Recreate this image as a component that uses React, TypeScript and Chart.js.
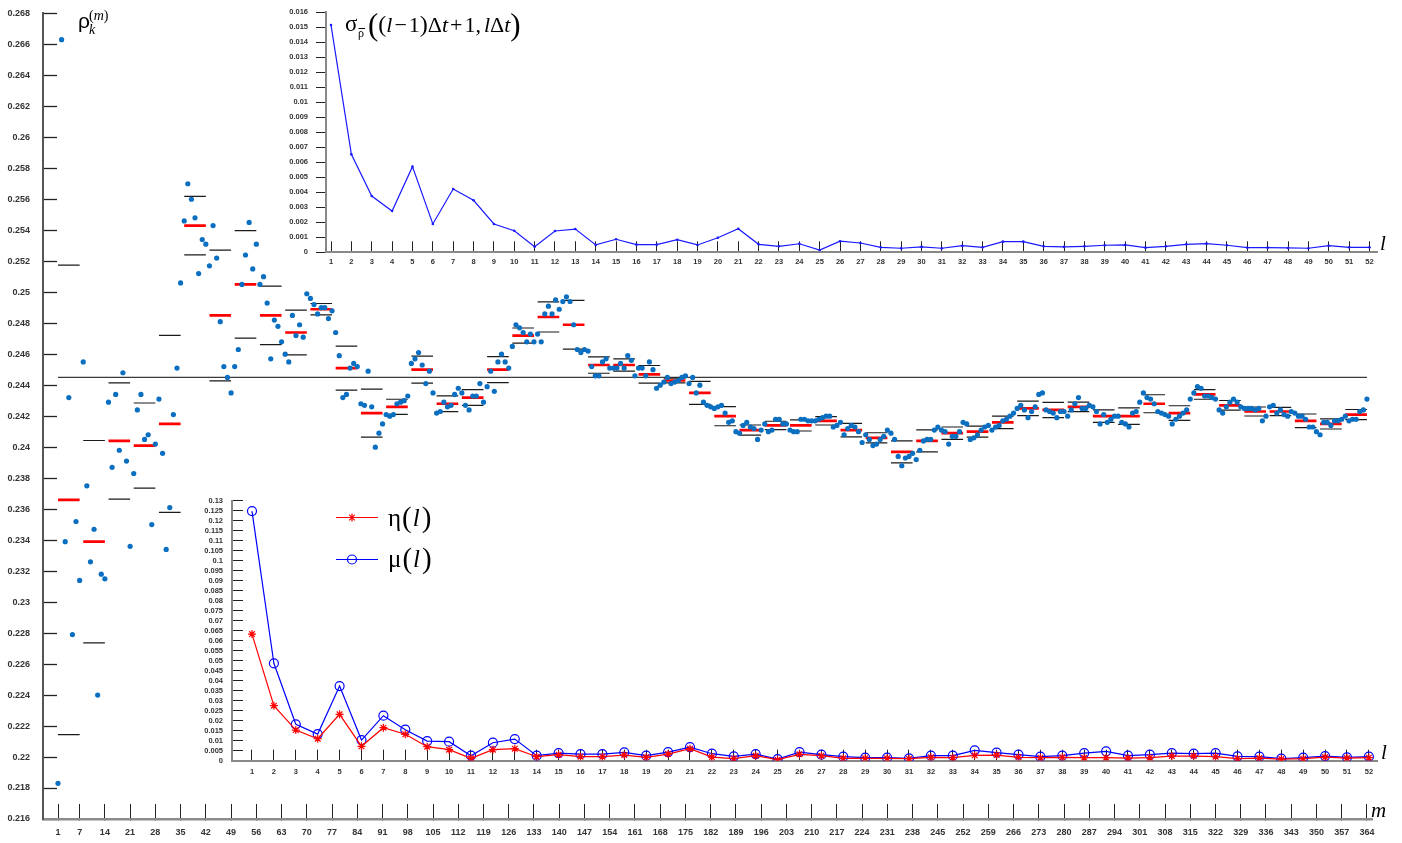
import React, { useEffect, useRef } from 'react';
import { Chart, registerables } from 'chart.js';

Chart.register(...registerables);

// ---------------- DATA ----------------
// daily correlation values rho_k^(m), m = 1..364 (one row per week)
const dailyRho: number[] = [
  0.2183, 0.2663, 0.2339, 0.2432, 0.2279, 0.2352, 0.2314,
  0.2455, 0.2375, 0.2326, 0.2347, 0.2240, 0.2318, 0.2315,
  0.2429, 0.2387, 0.2434, 0.2398, 0.2448, 0.2391, 0.2336,
  0.2383, 0.2424, 0.2434, 0.2405, 0.2408, 0.2350, 0.2402,
  0.2431, 0.2396, 0.2334, 0.2361, 0.2421, 0.2451, 0.2506,
  0.2546, 0.2570, 0.2560, 0.2548, 0.2512, 0.2534, 0.2531,
  0.2517, 0.2543, 0.2522, 0.2481, 0.2452, 0.2445, 0.2435,
  0.2452, 0.2463, 0.2505, 0.2524, 0.2545, 0.2515, 0.2531,
  0.2505, 0.2510, 0.2493, 0.2457, 0.2482, 0.2478, 0.2468,
  0.2460, 0.2455, 0.2485, 0.2472, 0.2479, 0.2471, 0.2499,
  0.2496, 0.2492, 0.2486, 0.2490, 0.2490, 0.2483, 0.2488,
  0.2474, 0.2459, 0.2432, 0.2434, 0.2451, 0.2454, 0.2452,
  0.2428, 0.2427, 0.2449, 0.2426, 0.2400, 0.2409, 0.2415,
  0.2421, 0.2420, 0.2421, 0.2428, 0.2429, 0.2430, 0.2433,
  0.2454, 0.2457, 0.2461, 0.2453, 0.2441, 0.2449, 0.2435,
  0.2422, 0.2423, 0.2429, 0.2426, 0.2427, 0.2434, 0.2438,
  0.2435, 0.2427, 0.2424, 0.2433, 0.2433, 0.2441, 0.2429,
  0.2439, 0.2449, 0.2436, 0.2455, 0.2460, 0.2455, 0.2451,
  0.2465, 0.2479, 0.2477, 0.2474, 0.2468, 0.2473, 0.2468,
  0.2473, 0.2468, 0.2486, 0.2491, 0.2486, 0.2495, 0.2489,
  0.2494, 0.2497, 0.2494, 0.2479, 0.2463, 0.2461, 0.2463,
  0.2462, 0.2452, 0.2446, 0.2446, 0.2455, 0.2457, 0.2451,
  0.2451, 0.2451, 0.2454, 0.2451, 0.2459, 0.2456, 0.2446,
  0.2451, 0.2451, 0.2446, 0.2455, 0.2450, 0.2438, 0.2440,
  0.2442, 0.2445, 0.2441, 0.2442, 0.2443, 0.2445, 0.2446,
  0.2441, 0.2445, 0.2435, 0.2440, 0.2429, 0.2427, 0.2426,
  0.2425, 0.2426, 0.2427, 0.2422, 0.2416, 0.2417, 0.2410,
  0.2409, 0.2414, 0.2416, 0.2413, 0.2412, 0.2405, 0.2411,
  0.2415, 0.2410, 0.2411, 0.2418, 0.2418, 0.2415, 0.2415,
  0.2411, 0.2410, 0.2410, 0.2418, 0.2418, 0.2417, 0.2417,
  0.2417, 0.2418, 0.2419, 0.2420, 0.2420, 0.2413, 0.2414,
  0.2416, 0.2408, 0.2412, 0.2414, 0.2413, 0.2410, 0.2403,
  0.2408, 0.2405, 0.2401, 0.2402, 0.2405, 0.2407, 0.2411,
  0.2409, 0.2405, 0.2394, 0.2388, 0.2393, 0.2394, 0.2396,
  0.2392, 0.2398, 0.2404, 0.2405, 0.2405, 0.2411, 0.2413,
  0.2411, 0.2410, 0.2402, 0.2407, 0.2407, 0.2410, 0.2416,
  0.2415, 0.2405, 0.2406, 0.2408, 0.2411, 0.2413, 0.2414,
  0.2411, 0.2413, 0.2414, 0.2417, 0.2418, 0.2420, 0.2422,
  0.2425, 0.2427, 0.2424, 0.2419, 0.2423, 0.2426, 0.2434,
  0.2435, 0.2424, 0.2423, 0.2422, 0.2419, 0.2423, 0.2423,
  0.2420, 0.2424, 0.2428, 0.2432, 0.2425, 0.2425, 0.2427,
  0.2426, 0.2423, 0.2415, 0.2421, 0.2416, 0.2418, 0.2420,
  0.2420, 0.2416, 0.2415, 0.2413, 0.2422, 0.2423, 0.2429,
  0.2435, 0.2432, 0.2431, 0.2428, 0.2423, 0.2422, 0.2421,
  0.2420, 0.2415, 0.2418, 0.2420, 0.2422, 0.2424, 0.2431,
  0.2435, 0.2439, 0.2438, 0.2433, 0.2433, 0.2432, 0.2431,
  0.2424, 0.2422, 0.2426, 0.2429, 0.2431, 0.2429, 0.2426,
  0.2425, 0.2425, 0.2425, 0.2424, 0.2425, 0.2417, 0.2420,
  0.2426, 0.2427, 0.2422, 0.2424, 0.2421, 0.2420, 0.2423,
  0.2422, 0.2420, 0.2420, 0.2418, 0.2413, 0.2413, 0.2410,
  0.2408, 0.2416, 0.2416, 0.2414, 0.2417, 0.2417, 0.2418,
  0.2420, 0.2417, 0.2418, 0.2418, 0.2423, 0.2424, 0.2431,
];

// weekly mean (red bars), l = 1..52
const weeklyMean: number[] = [
  0.2366, 0.2339, 0.2404, 0.2401, 0.2415, 0.2543, 0.2485, 0.2505, 0.2485, 0.2474,
  0.2489, 0.2451, 0.2422, 0.2426, 0.2450, 0.2428, 0.2432, 0.2450, 0.2472, 0.2484,
  0.2479, 0.2453, 0.2453, 0.2447, 0.2443, 0.2435, 0.2420, 0.2411, 0.2414, 0.2414,
  0.2417, 0.2411, 0.2406, 0.2397, 0.2404, 0.2409, 0.2410, 0.2416, 0.2425, 0.2424,
  0.2426, 0.2420, 0.2420, 0.2428, 0.2422, 0.2434, 0.2427, 0.2423, 0.2423, 0.2417,
  0.2415, 0.2421,
];

// weekly standard deviation sigma (top inset), l = 1..52
const weeklySigma: number[] = [
  0.01515, 0.00653, 0.00375, 0.00275, 0.00571, 0.00189, 0.00422, 0.00347, 0.00189, 0.00144,
  0.00037, 0.00142, 0.00155, 0.00049, 0.00087, 0.00051, 0.00051, 0.00084, 0.00049, 0.00097,
  0.00157, 0.00053, 0.00040, 0.00057, 0.00015, 0.00074, 0.00062, 0.00033, 0.00027, 0.00036,
  0.00027, 0.00044, 0.00033, 0.00071, 0.00071, 0.00040, 0.00036, 0.00040, 0.00047, 0.00049,
  0.00031, 0.00040, 0.00053, 0.00058, 0.00047, 0.00031, 0.00031, 0.00029, 0.00027, 0.00044,
  0.00033, 0.00033,
];

// eta(l) (bottom inset, red)
const etaWeek: number[] = [
  0.0633, 0.0275, 0.0153, 0.0110, 0.0232, 0.0072, 0.0165, 0.0132, 0.0070, 0.0055,
  0.0012, 0.0055, 0.0060, 0.0020, 0.0030, 0.0020, 0.0020, 0.0028, 0.0017, 0.0033,
  0.0060, 0.0018, 0.0010, 0.0025, 0.0005, 0.0032, 0.0025, 0.0012, 0.0012, 0.0012,
  0.0010, 0.0017, 0.0015, 0.0027, 0.0028, 0.0017, 0.0015, 0.0017, 0.0015, 0.0015,
  0.0013, 0.0015, 0.0023, 0.0023, 0.0020, 0.0010, 0.0013, 0.0008, 0.0010, 0.0018,
  0.0013, 0.0015,
];

// mu(l) (bottom inset, blue)
const muWeek: number[] = [
  0.1248, 0.0487, 0.0182, 0.0133, 0.0373, 0.0103, 0.0225, 0.0155, 0.0098, 0.0095,
  0.0025, 0.0090, 0.0108, 0.0025, 0.0038, 0.0033, 0.0033, 0.0042, 0.0025, 0.0043,
  0.0068, 0.0035, 0.0022, 0.0033, 0.0008, 0.0043, 0.0030, 0.0020, 0.0015, 0.0015,
  0.0012, 0.0025, 0.0025, 0.0052, 0.0040, 0.0030, 0.0020, 0.0025, 0.0038, 0.0047,
  0.0025, 0.0030, 0.0038, 0.0035, 0.0038, 0.0022, 0.0020, 0.0010, 0.0015, 0.0023,
  0.0017, 0.0020,
];

const overallMean = 0.2445;

const dayTicks: number[] = [
  1, 7, 14, 21, 28, 35, 42, 49, 56, 63, 70, 77, 84, 91, 98, 105, 112, 119, 126, 133, 140,
  147, 154, 161, 168, 175, 182, 189, 196, 203, 210, 217, 224, 231, 238, 245, 252, 259,
  266, 273, 280, 287, 294, 301, 308, 315, 322, 329, 336, 343, 350, 357, 364,
];
const rhoTicks: number[] = [
  0.216, 0.218, 0.22, 0.222, 0.224, 0.226, 0.228, 0.23, 0.232, 0.234, 0.236, 0.238, 0.24,
  0.242, 0.244, 0.246, 0.248, 0.25, 0.252, 0.254, 0.256, 0.258, 0.26, 0.262, 0.264, 0.266, 0.268,
];
const weekTicks: number[] = Array.from({ length: 52 }, (_, i) => i + 1);
const sigmaTicks: number[] = [
  0, 0.001, 0.002, 0.003, 0.004, 0.005, 0.006, 0.007, 0.008, 0.009, 0.01, 0.011, 0.012,
  0.013, 0.014, 0.015, 0.016,
];
const ratioTicks: number[] = [
  0, 0.005, 0.01, 0.015, 0.02, 0.025, 0.03, 0.035, 0.04, 0.045, 0.05, 0.055, 0.06, 0.065,
  0.07, 0.075, 0.08, 0.085, 0.09, 0.095, 0.1, 0.105, 0.11, 0.115, 0.12, 0.125, 0.13,
];

// ---------------- HELPERS ----------------
const SANS = '"Liberation Sans", Arial, sans-serif';
const SERIF = '"Liberation Serif", "Times New Roman", serif';
const tickFont = (size: number) => ({ family: SANS, size, weight: 'bold' as const });
const fmt = (v: any) => String(Number(Number(v).toFixed(3)));

function fixSize(prop: 'width' | 'height', size: number) {
  return (s: any) => {
    s[prop] = size;
    s.paddingTop = 0;
    s.paddingBottom = 0;
    s.paddingLeft = 0;
    s.paddingRight = 0;
  };
}

function weekSegments(values: number[]) {
  const pts: { x: number; y: number | null }[] = [];
  values.forEach((v, i) => {
    pts.push({ x: 7 * i + 1, y: v });
    pts.push({ x: 7 * i + 7, y: v });
    pts.push({ x: 7 * i + 7, y: null });
  });
  return pts;
}

function runs(ctx: CanvasRenderingContext2D, x: number, y: number, items: [string, string, number?, number?][]) {
  for (const [t, f, dy, gap] of items) {
    ctx.font = f;
    ctx.fillText(t, x, y + (dy || 0));
    x += ctx.measureText(t).width + (gap || 0);
  }
  return x;
}

const textPlugin = {
  id: 'mathText',
  afterDraw(chart: any) {
    const ctx: CanvasRenderingContext2D = chart.ctx;
    ctx.save();
    ctx.fillStyle = '#000';
    ctx.textBaseline = 'alphabetic';
    ctx.textAlign = 'left';

    // rho_k^(m)
    ctx.font = `21px ${SANS}`;
    ctx.fillText('ρ', 78, 28);
    runs(ctx, 89, 20, [['(', `14px ${SERIF}`], ['m', `italic 14px ${SERIF}`], [')', `14px ${SERIF}`]]);
    ctx.font = `italic 14px ${SERIF}`;
    ctx.fillText('k', 89, 34);

    // m axis name
    ctx.font = `italic 21px ${SERIF}`;
    ctx.fillText('m', 1371, 817);

    // sigma formula (top inset)
    ctx.font = `23px ${SERIF}`;
    ctx.fillText('σ', 345, 31);
    ctx.font = `12px ${SERIF}`;
    ctx.fillText('ρ', 358, 37);
    ctx.strokeStyle = '#000';
    ctx.lineWidth = 1;
    ctx.beginPath();
    ctx.moveTo(358.5, 28.5);
    ctx.lineTo(365, 28.5);
    ctx.stroke();
    const big = `31px ${SERIF}`;
    const mid = `24px ${SERIF}`;
    const rom = `22px ${SERIF}`;
    const ita = `italic 22px ${SERIF}`;
    runs(ctx, 368, 32, [
      ['(', big, 3], ['(', mid], ['l', ita, 0, 2], ['−', rom, 0, 2], ['1', rom], [')', mid],
      ['Δ', rom], ['t', ita, 0, 2], ['+', rom, 0, 2], ['1', rom], [',', rom, 0, 3],
      ['l', ita], ['Δ', rom], ['t', ita], [')', big, 3],
    ]);

    // l axis names for insets
    ctx.font = `italic 21px ${SERIF}`;
    ctx.fillText('l', 1380, 250);
    ctx.fillText('l', 1381, 759);

    // legend of bottom inset
    ctx.lineWidth = 1.2;
    ctx.strokeStyle = '#ff0000';
    ctx.beginPath();
    ctx.moveTo(336, 517.5);
    ctx.lineTo(378, 517.5);
    ctx.stroke();
    const sx = 352, sy = 517.5, r = 4;
    ctx.beginPath();
    ctx.moveTo(sx - r, sy); ctx.lineTo(sx + r, sy);
    ctx.moveTo(sx, sy - r); ctx.lineTo(sx, sy + r);
    ctx.moveTo(sx - r * 0.7, sy - r * 0.7); ctx.lineTo(sx + r * 0.7, sy + r * 0.7);
    ctx.moveTo(sx - r * 0.7, sy + r * 0.7); ctx.lineTo(sx + r * 0.7, sy - r * 0.7);
    ctx.stroke();
    ctx.strokeStyle = '#0000ff';
    ctx.beginPath();
    ctx.moveTo(336, 559.5);
    ctx.lineTo(378, 559.5);
    ctx.stroke();
    ctx.beginPath();
    ctx.arc(352, 559.5, 4.5, 0, Math.PI * 2);
    ctx.stroke();
    const lrom = `25px ${SERIF}`;
    const lita = `italic 25px ${SERIF}`;
    const lpar = `29px ${SERIF}`;
    runs(ctx, 388, 526, [['η', lrom, 0, 1], ['(', lpar, 1, 1], ['l', lita, 0, 2], [')', lpar, 1]]);
    runs(ctx, 388, 567, [['μ', lrom, 0, 1], ['(', lpar, 1, 1], ['l', lita, 0, 2], [')', lpar, 1]]);

    ctx.restore();
  },
};

// ---------------- CONFIGS ----------------
function mainConfig(): any {
  const dots = dailyRho.map((v, i) => ({ x: i + 1, y: v }));
  const upper = weeklyMean.map((m, i) => m + weeklySigma[i]);
  const lower = weeklyMean.map((m, i) => m - weeklySigma[i]);
  return {
    type: 'line',
    data: {
      datasets: [
        {
          data: dots, showLine: false, pointRadius: 2.6, pointBackgroundColor: '#0a6fc0',
          pointBorderWidth: 0, borderColor: '#0a6fc0',
        },
        { data: weekSegments(weeklyMean), borderColor: '#ff0000', borderWidth: 2.7, pointRadius: 0, spanGaps: false, borderCapStyle: 'butt' },
        { data: weekSegments(upper), borderColor: '#1a1a1a', borderWidth: 1.2, pointRadius: 0, spanGaps: false, borderCapStyle: 'butt' },
        { data: weekSegments(lower), borderColor: '#1a1a1a', borderWidth: 1.2, pointRadius: 0, spanGaps: false, borderCapStyle: 'butt' },
        { data: [{ x: 1, y: overallMean }, { x: 364, y: overallMean }], borderColor: '#3a3a3a', borderWidth: 1.3, pointRadius: 0 },
      ],
    },
    options: {
      responsive: false, animation: false, events: [],
      layout: { padding: { left: 0, top: 13.3, right: 30, bottom: 0 } },
      plugins: { legend: { display: false }, tooltip: { enabled: false } },
      scales: {
        x: {
          type: 'linear', min: -3.16, max: 365.4,
          afterBuildTicks: (s: any) => { s.ticks = dayTicks.map((v) => ({ value: v })); },
          afterFit: fixSize('height', 24),
          grid: { drawOnChartArea: false, tickLength: -15, tickColor: '#222', tickWidth: 1 },
          border: { color: '#8c8c8c', width: 2.5 },
          ticks: { autoSkip: false, maxRotation: 0, minRotation: 0, padding: 23, color: '#333', font: tickFont(9), callback: (v: any) => String(v) },
        },
        y: {
          type: 'linear', min: 0.216, max: 0.268,
          afterBuildTicks: (s: any) => { s.ticks = rhoTicks.map((v) => ({ value: v })); },
          afterFit: fixSize('width', 43),
          grid: { drawOnChartArea: false, tickLength: -14, tickColor: '#222', tickWidth: 1.3 },
          border: { color: '#555', width: 2 },
          ticks: { autoSkip: false, padding: 27, color: '#333', font: tickFont(9), callback: fmt },
        },
      },
    },
    plugins: [textPlugin],
  };
}

function topConfig(): any {
  return {
    type: 'line',
    data: {
      datasets: [
        {
          data: weeklySigma.map((v, i) => ({ x: weekTicks[i], y: v })),
          borderColor: '#1a1aff', borderWidth: 1.2, pointRadius: 1.3,
          pointBackgroundColor: '#1a1aff', pointBorderWidth: 0, tension: 0,
        },
      ],
    },
    options: {
      responsive: false, animation: false, events: [],
      layout: { padding: { left: 286, top: 12.3, right: 25, bottom: 17.7 } },
      plugins: { legend: { display: false }, tooltip: { enabled: false } },
      scales: {
        x: {
          type: 'linear', min: 0.754, max: 52.37,
          afterBuildTicks: (s: any) => { s.ticks = weekTicks.map((v) => ({ value: v })); },
          afterFit: fixSize('height', 20),
          grid: { drawOnChartArea: false, tickLength: -11, tickColor: '#222', tickWidth: 1 },
          border: { color: '#888', width: 2 },
          ticks: { autoSkip: false, maxRotation: 0, minRotation: 0, padding: 16.2, color: '#333', font: tickFont(7.5), callback: (v: any) => String(v) },
        },
        y: {
          type: 'linear', min: 0, max: 0.016,
          afterBuildTicks: (s: any) => { s.ticks = sigmaTicks.map((v) => ({ value: v })); },
          afterFit: fixSize('width', 40),
          grid: { drawOnChartArea: false, tickLength: 10, tickColor: '#222', tickWidth: 1 },
          border: { color: '#888', width: 2 },
          ticks: { autoSkip: false, padding: 8, color: '#333', font: tickFont(7.5), callback: fmt },
        },
      },
    },
  };
}

function bottomConfig(): any {
  return {
    type: 'line',
    data: {
      datasets: [
        {
          data: etaWeek.map((v, i) => ({ x: weekTicks[i], y: v })),
          borderColor: '#ff0000', borderWidth: 1.2, pointStyle: 'star', pointRadius: 4,
          pointBorderColor: '#ff0000', pointBorderWidth: 1.2, pointBackgroundColor: '#ff0000',
        },
        {
          data: muWeek.map((v, i) => ({ x: weekTicks[i], y: v })),
          borderColor: '#0000ff', borderWidth: 1.2, pointStyle: 'circle', pointRadius: 4.5,
          pointBorderColor: '#0000ff', pointBorderWidth: 1.2, pointBackgroundColor: 'rgba(255,255,255,0)',
        },
      ],
    },
    options: {
      responsive: false, animation: false, events: [],
      layout: { padding: { left: 192, top: 20.7, right: 25, bottom: 19.3 } },
      plugins: { legend: { display: false }, tooltip: { enabled: false } },
      scales: {
        x: {
          type: 'linear', min: 0.087, max: 52.37,
          afterBuildTicks: (s: any) => { s.ticks = weekTicks.map((v) => ({ value: v })); },
          afterFit: fixSize('height', 20),
          grid: { drawOnChartArea: false, tickLength: -11, tickColor: '#222', tickWidth: 1 },
          border: { color: '#888', width: 2 },
          ticks: { autoSkip: false, maxRotation: 0, minRotation: 0, padding: 17.8, color: '#333', font: tickFont(7.5), callback: (v: any) => String(v) },
        },
        y: {
          type: 'linear', min: 0, max: 0.13,
          afterBuildTicks: (s: any) => { s.ticks = ratioTicks.map((v) => ({ value: v })); },
          afterFit: fixSize('width', 40),
          grid: { drawOnChartArea: false, tickLength: -11, tickColor: '#222', tickWidth: 1 },
          border: { color: '#888', width: 2 },
          ticks: { autoSkip: false, padding: 20, color: '#333', font: tickFont(7.5), callback: fmt },
        },
      },
    },
  };
}

export default function App() {
  const mainRef = useRef<HTMLCanvasElement>(null);
  const topRef = useRef<HTMLCanvasElement>(null);
  const botRef = useRef<HTMLCanvasElement>(null);

  useEffect(() => {
    const charts: Chart[] = [];
    if (mainRef.current) charts.push(new Chart(mainRef.current, mainConfig()));
    if (topRef.current) charts.push(new Chart(topRef.current, topConfig()));
    if (botRef.current) charts.push(new Chart(botRef.current, bottomConfig()));
    return () => charts.forEach((c) => c.destroy());
  }, []);

  return (
    <div style={{ position: 'fixed', left: 0, top: 0, width: 1402, height: 843, background: '#fff', overflow: 'hidden' }}>
      <canvas ref={mainRef} width={1402} height={843} style={{ position: 'absolute', left: 0, top: 0 }} />
      <canvas ref={topRef} width={1402} height={290} style={{ position: 'absolute', left: 0, top: 0 }} />
      <canvas ref={botRef} width={1402} height={320} style={{ position: 'absolute', left: 0, top: 480 }} />
    </div>
  );
}
